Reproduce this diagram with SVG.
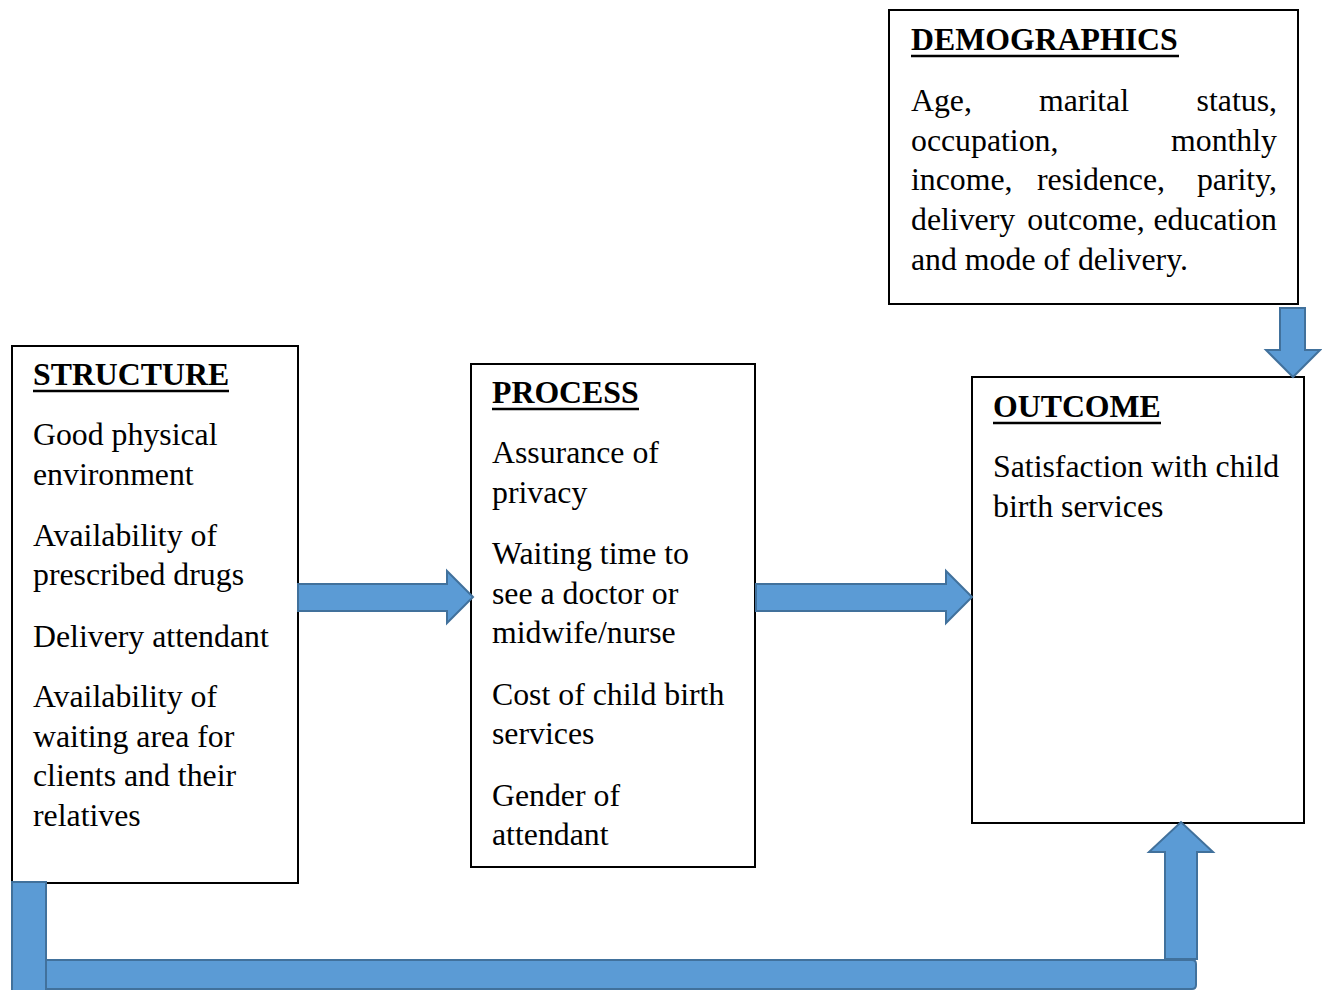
<svg xmlns="http://www.w3.org/2000/svg" width="1322" height="990" viewBox="0 0 1322 990">
<style>
.box{fill:#fff;stroke:#000;stroke-width:2}
.t{font-family:"Liberation Serif","Times New Roman",serif;font-size:31.8px;fill:#000}
.h{font-family:"Liberation Serif","Times New Roman",serif;font-size:31.8px;font-weight:bold;fill:#000}
.ul{stroke:#000;stroke-width:2.5}
.arr{fill:#5B9BD5;stroke:#41719C;stroke-width:2;stroke-linejoin:miter}
</style>
<rect width="1322" height="990" fill="#fff"/>
<g id="structure">
<rect class="box" x="12" y="346" width="286" height="537"/>
<text class="h" x="33" y="385">STRUCTURE</text>
<line class="ul" x1="33" y1="391" x2="229" y2="391"/>
<text class="t" x="33" y="445">Good physical</text>
<text class="t" x="33" y="485">environment</text>
<text class="t" x="33" y="546">Availability of</text>
<text class="t" x="33" y="585">prescribed drugs</text>
<text class="t" x="33" y="647">Delivery attendant</text>
<text class="t" x="33" y="707">Availability of</text>
<text class="t" x="33" y="747">waiting area for</text>
<text class="t" x="33" y="786">clients and their</text>
<text class="t" x="33" y="826">relatives</text>
</g>
<g id="process">
<rect class="box" x="471" y="364" width="284" height="503"/>
<text class="h" x="492" y="403">PROCESS</text>
<line class="ul" x1="492" y1="409" x2="639" y2="409"/>
<text class="t" x="492" y="463">Assurance of</text>
<text class="t" x="492" y="503">privacy</text>
<text class="t" x="492" y="564">Waiting time to</text>
<text class="t" x="492" y="604">see a doctor or</text>
<text class="t" x="492" y="643">midwife/nurse</text>
<text class="t" x="492" y="705">Cost of child birth</text>
<text class="t" x="492" y="744">services</text>
<text class="t" x="492" y="806">Gender of</text>
<text class="t" x="492" y="845">attendant</text>
</g>
<g id="outcome">
<rect class="box" x="972" y="377" width="332" height="446"/>
<text class="h" x="993" y="417">OUTCOME</text>
<line class="ul" x1="993" y1="423" x2="1161" y2="423"/>
<text class="t" x="993" y="477">Satisfaction with child</text>
<text class="t" x="993" y="517">birth services</text>
</g>
<g id="demographics">
<rect class="box" x="889" y="10" width="409" height="294"/>
<text class="h" x="911" y="50">DEMOGRAPHICS</text>
<line class="ul" x1="911" y1="56" x2="1179" y2="56"/>
<text class="t" x="911" y="111">Age,</text>
<text class="t" x="1084" y="111" text-anchor="middle">marital</text>
<text class="t" x="1277" y="111" text-anchor="end">status,</text>
<text class="t" x="911" y="151">occupation,</text>
<text class="t" x="1277" y="151" text-anchor="end">monthly</text>
<text class="t" x="911" y="190">income,</text>
<text class="t" x="1101" y="190" text-anchor="middle">residence,</text>
<text class="t" x="1277" y="190" text-anchor="end">parity,</text>
<text class="t" x="911" y="230">delivery</text>
<text class="t" x="1086" y="230" text-anchor="middle">outcome,</text>
<text class="t" x="1277" y="230" text-anchor="end">education</text>
<text class="t" x="911" y="270">and mode of delivery.</text>
</g>
<g id="connectors">
<polygon class="arr" points="298,584 447,584 447,571 473,597 447,623 447,611 298,611"/>
<polygon class="arr" points="756,584 946,584 946,571 972,597 946,623 946,611 756,611"/>
<polygon class="arr" points="1280,308 1305,308 1305,350 1320,350 1293,377 1266,350 1280,350"/>
<rect class="arr" x="12" y="882" width="34" height="112"/>
<path class="arr" d="M46,960 H1192 Q1196,960 1196,964 V985 Q1196,989 1192,989 H46 Z"/>
<polygon class="arr" points="1165,959 1165,852 1149,852 1181,822 1213,852 1197,852 1197,959"/>
</g>
</svg>
